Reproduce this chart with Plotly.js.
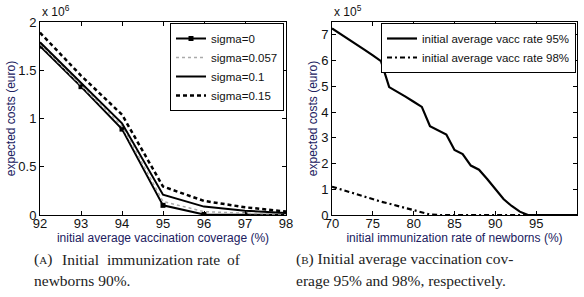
<!DOCTYPE html>
<html><head><meta charset="utf-8">
<script src="https://cdn.plot.ly/plotly-3.0.1.min.js"></script>
<style>html,body{margin:0;padding:0;background:#fff}#c{width:584px;height:297px}</style>
</head><body><div id="c"></div>
<script>
// Left panel: initial average vaccination coverage (%)
const coverage = [92, 93, 94, 95, 96, 97, 98];
const sigma0    = [1.75e6, 1.33e6, 0.89e6, 0.10e6, 0.005e6, 0.003e6, 0.002e6];
const sigma0057 = [1.77e6, 1.35e6, 0.92e6, 0.14e6, 0.035e6, 0.018e6, 0.008e6];
const sigma01   = [1.79e6, 1.37e6, 0.95e6, 0.21e6, 0.087e6, 0.045e6, 0.02e6];
const sigma015  = [1.89e6, 1.445e6, 1.04e6, 0.295e6, 0.146e6, 0.08e6, 0.035e6];
const leftNames = ['sigma=0', 'sigma=0.057', 'sigma=0.1', 'sigma=0.15'];
const leftTickVals = [0, 0.5e6, 1e6, 1.5e6, 2e6];
const leftTickText = ['0', '0.5', '1', '1.5', '2'];

// Right panel: initial immunization rate of newborns (%)
const newbornRate = [70,71,72,73,74,75,76,77,78,79,80,81,82,83,84,85,86,87,88,89,90,91,92,93,94,95,96,97,98,99,100];
const vacc95 = [7.25e5,7.05e5,6.83e5,6.62e5,6.42e5,6.2e5,5.98e5,4.97e5,4.8e5,4.6e5,4.4e5,4.2e5,3.45e5,3.3e5,3.13e5,2.53e5,2.37e5,1.92e5,1.76e5,1.4e5,1.03e5,0.62e5,0.35e5,0.13e5,0,0,0,0,0,0,0];
const vacc98 = [1.1e5,1.0e5,0.9e5,0.8e5,0.7e5,0.6e5,0.52e5,0.44e5,0.35e5,0.26e5,0.18e5,0.1e5,0.02e5,0,0,0,0,0,0,0,0,0,0,0,0,0,0,0,0,0,0];
const rightNames = ['initial average vacc rate 95%', 'initial average vacc rate 98%'];
const rightTickVals = [0,1e5,2e5,3e5,4e5,5e5,6e5,7e5];
const rightTickText = ['0','1','2','3','4','5','6','7'];
const rightXTicks = [70,75,80,85,90,95];

// Captions (words of justified first line placed individually)
const capALine1 = ['(<span style="font-size:11px">A</span>)', 'Initial', 'immunization', 'rate', 'of'];
const capALine1X = [32, 60, 105, 195, 225];
const capALine2 = 'newborns 90%.';
const capBLine1 = '(<span style="font-size:11px">B</span>) Initial average vaccination cov-';
const capBLine2 = 'erage 95% and 98%, respectively.';

const W = 584, H = 297;
const px = v => v / W, py = v => 1 - v / H;
const sans = 'Liberation Sans, Arial, sans-serif';
const serif = 'Liberation Serif, Times New Roman, serif';
const tickFont = {family: sans, size: 13, color: '#111'};
const titleFont = {family: sans, size: 12, color: '#202060'};
const legFont = {family: sans, size: 11.5, color: '#111'};
const capFont = {family: serif, size: 15.5, color: '#222'};

const traces = [
  {x: coverage, y: sigma0, name: leftNames[0], mode: 'lines+markers', line: {color: '#000', width: 2}, marker: {symbol: 'square', size: 5, color: '#000'}, xaxis: 'x', yaxis: 'y', legend: 'legend'},
  {x: coverage, y: sigma0057, name: leftNames[1], mode: 'lines', line: {color: '#aaa', width: 1.5, dash: 'dot'}, xaxis: 'x', yaxis: 'y', legend: 'legend'},
  {x: coverage, y: sigma01, name: leftNames[2], mode: 'lines', line: {color: '#000', width: 2}, xaxis: 'x', yaxis: 'y', legend: 'legend'},
  {x: coverage, y: sigma015, name: leftNames[3], mode: 'lines', line: {color: '#000', width: 2.5, dash: '4px,3px'}, xaxis: 'x', yaxis: 'y', legend: 'legend'},
  {x: newbornRate, y: vacc95, name: rightNames[0], mode: 'lines', line: {color: '#000', width: 2.2}, xaxis: 'x2', yaxis: 'y2', legend: 'legend2'},
  {x: newbornRate, y: vacc98, name: rightNames[1], mode: 'lines', line: {color: '#000', width: 2.2, dash: '5px,3px,2px,3px'}, xaxis: 'x2', yaxis: 'y2', legend: 'legend2'}
];

const axBase = {showgrid: false, zeroline: false, showline: true, linecolor: '#000', linewidth: 1, mirror: 'ticks', ticks: 'inside', ticklen: 4, tickcolor: '#000', tickfont: tickFont};

const annotations = [
  {xref: 'paper', yref: 'paper', x: px(40), y: py(21), xanchor: 'left', yanchor: 'bottom', showarrow: false,
    text: 'x 10<sup>6</sup>', font: {family: sans, size: 12, color: '#111'}},
  {xref: 'paper', yref: 'paper', x: px(332), y: py(21), xanchor: 'left', yanchor: 'bottom', showarrow: false,
    text: 'x 10<sup>5</sup>', font: {family: sans, size: 12, color: '#111'}},
  {xref: 'paper', yref: 'paper', x: px(32), y: py(280), xanchor: 'left', yanchor: 'middle', showarrow: false, text: capALine2, font: capFont},
  {xref: 'paper', yref: 'paper', x: px(294), y: py(259), xanchor: 'left', yanchor: 'middle', showarrow: false, text: capBLine1, font: capFont},
  {xref: 'paper', yref: 'paper', x: px(294), y: py(280), xanchor: 'left', yanchor: 'middle', showarrow: false, text: capBLine2, font: capFont}
];
capALine1.forEach((w, i) => annotations.push({xref: 'paper', yref: 'paper', x: px(capALine1X[i]), y: py(259), xanchor: 'left', yanchor: 'middle', showarrow: false, text: w, font: capFont}));

const layout = {
  width: W, height: H, margin: {l: 0, r: 0, t: 0, b: 0},
  paper_bgcolor: '#fff', plot_bgcolor: '#fff',
  xaxis: Object.assign({}, axBase, {domain: [px(40), px(286)], range: [92, 98], tickvals: coverage, anchor: 'y', ticklabelstandoff: -4,
    title: {text: 'initial average vaccination coverage (%)', font: titleFont, standoff: 0}}),
  yaxis: Object.assign({}, axBase, {domain: [py(215), py(22)], range: [0, 2e6], tickvals: leftTickVals, ticktext: leftTickText, anchor: 'x',
    title: {text: 'expected costs (euro)', font: titleFont, standoff: 0}}),
  xaxis2: Object.assign({}, axBase, {domain: [px(332), px(577)], range: [70, 100], tickvals: rightXTicks, anchor: 'y2', ticklabelstandoff: -4,
    title: {text: 'initial immunization rate of newborns (%)', font: titleFont, standoff: 0}}),
  yaxis2: Object.assign({}, axBase, {domain: [py(215), py(22)], range: [0, 7.5e5], tickvals: rightTickVals, ticktext: rightTickText, anchor: 'x2',
    title: {text: 'expected costs (euro)', font: titleFont, standoff: 0}}),
  legend: {x: px(284), y: py(23), xanchor: 'right', yanchor: 'top', bgcolor: '#fff', bordercolor: '#000', borderwidth: 1,
    font: legFont, tracegroupgap: 0, itemwidth: 30},
  legend2: {x: px(576), y: py(23), xanchor: 'right', yanchor: 'top', bgcolor: '#fff', bordercolor: '#000', borderwidth: 1,
    font: legFont, tracegroupgap: 0, itemwidth: 30},
  annotations: annotations
};

Plotly.newPlot('c', traces, layout, {staticPlot: true, displayModeBar: false});
</script>
</body></html>
